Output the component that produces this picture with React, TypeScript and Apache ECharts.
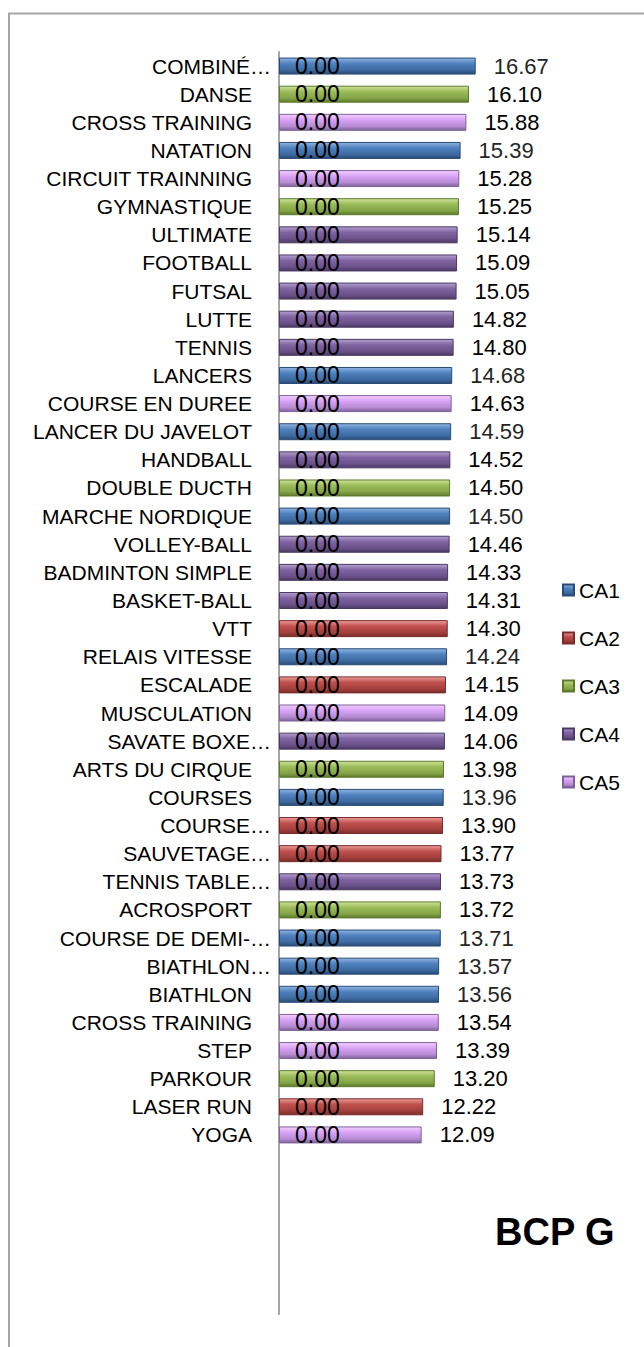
import React, { useEffect, useRef } from "react";
import * as echarts from "echarts";

const categories: string[] = [
  "COMBINÉ…", "DANSE", "CROSS TRAINING", "NATATION", "CIRCUIT TRAINNING",
  "GYMNASTIQUE", "ULTIMATE", "FOOTBALL", "FUTSAL", "LUTTE",
  "TENNIS", "LANCERS", "COURSE EN DUREE", "LANCER DU JAVELOT", "HANDBALL",
  "DOUBLE DUCTH", "MARCHE NORDIQUE", "VOLLEY-BALL", "BADMINTON SIMPLE", "BASKET-BALL",
  "VTT", "RELAIS VITESSE", "ESCALADE", "MUSCULATION", "SAVATE BOXE…",
  "ARTS DU CIRQUE", "COURSES", "COURSE…", "SAUVETAGE…", "TENNIS TABLE…",
  "ACROSPORT", "COURSE DE DEMI-…", "BIATHLON…", "BIATHLON", "CROSS TRAINING",
  "STEP", "PARKOUR", "LASER RUN", "YOGA",
];

const values: number[] = [
  16.67, 16.1, 15.88, 15.39, 15.28,
  15.25, 15.14, 15.09, 15.05, 14.82,
  14.8, 14.68, 14.63, 14.59, 14.52,
  14.5, 14.5, 14.46, 14.33, 14.31,
  14.3, 14.24, 14.15, 14.09, 14.06,
  13.98, 13.96, 13.9, 13.77, 13.73,
  13.72, 13.71, 13.57, 13.56, 13.54,
  13.39, 13.2, 12.22, 12.09,
];

const groups: string[] = [
  "CA1", "CA3", "CA5", "CA1", "CA5",
  "CA3", "CA4", "CA4", "CA4", "CA4",
  "CA4", "CA1", "CA5", "CA1", "CA4",
  "CA3", "CA1", "CA4", "CA4", "CA4",
  "CA2", "CA1", "CA2", "CA5", "CA4",
  "CA3", "CA1", "CA2", "CA2", "CA4",
  "CA3", "CA1", "CA1", "CA1", "CA5",
  "CA5", "CA3", "CA2", "CA5",
];

const zeroValues: number[] = categories.map(() => 0);

const seriesNames: string[] = ["CA1", "CA2", "CA3", "CA4", "CA5"];

const palette: Record<string, [string, string, string, string]> = {
  CA1: ["#8FB4E3", "#4F81BD", "#3D6AA0", "#2A4B75"],
  CA2: ["#EC9E9B", "#C0504D", "#A23F3C", "#7A2C2A"],
  CA3: ["#CFE39A", "#9BBB59", "#84A447", "#5E7A2C"],
  CA4: ["#B3A0D0", "#8064A2", "#6A5189", "#4B3A63"],
  CA5: ["#F3CEFF", "#D9A3F7", "#B58AD2", "#7E6399"],
};

const title = "BCP G";

const FONT = "'Liberation Sans', Arial, sans-serif";

export default function App() {
  const ref = useRef<HTMLDivElement>(null);

  useEffect(() => {
    if (!ref.current) return;
    const chart = echarts.init(ref.current, null, { renderer: "svg" });

    const gridTop = 52;
    const gridHeight = 1097;

    const caSeries = seriesNames.map((name) => {
      const c = palette[name];
      return {
        name,
        type: "bar",
        stack: "total",
        barWidth: 17,
        z: 2,
        data: values.map((v, i) => (groups[i] === name ? v : null)),
        itemStyle: {
          color: new echarts.graphic.LinearGradient(0, 0, 0, 1, [
            { offset: 0, color: c[0] },
            { offset: 0.35, color: c[1] },
            { offset: 0.75, color: c[2] },
            { offset: 1, color: c[3] },
          ]),
          borderColor: c[3],
          borderWidth: 1,
        },
        label: {
          show: true,
          position: "right",
          distance: 18,
          fontSize: 22,
          fontFamily: FONT,
          color: name === "CA1" ? "#262626" : "#000000",
          formatter: (p: any) => Number(p.value).toFixed(2),
        },
      };
    });

    const option: any = {
      animation: false,
      backgroundColor: "#ffffff",
      title: {
        text: title,
        left: 490,
        top: 1208,
        textStyle: { fontSize: 38, fontWeight: "bold", fontFamily: FONT, color: "#000" },
      },
      legend: {
        orient: "vertical",
        left: 557,
        top: 574,
        data: seriesNames,
        itemWidth: 11,
        itemHeight: 11,
        itemGap: 26,
        icon: "rect",
        textStyle: { fontSize: 21, fontFamily: FONT, color: "#000", lineHeight: 22 },
      },
      grid: { left: 279, top: gridTop, width: 212.4, height: gridHeight, containLabel: false },
      xAxis: {
        type: "value",
        min: 0,
        max: 18,
        show: false,
      },
      yAxis: {
        type: "category",
        inverse: true,
        data: categories,
        axisTick: { show: false },
        axisLine: { show: true, lineStyle: { color: "#a6a6a6", width: 2 } },
        axisLabel: {
          margin: 8,
          fontSize: 21,
          fontFamily: FONT,
          color: "#000",
          formatter: (v: string) => (v.indexOf("…") >= 0 ? `{b|${v}}` : `{a|${v}}`),
          rich: {
            a: { fontSize: 21, fontFamily: FONT, color: "#000", padding: [0, 19, 0, 0] },
            b: { fontSize: 21, fontFamily: FONT, color: "#000" },
          },
        },
      },
      graphic: [
        {
          type: "rect",
          shape: { x: 9, y: 13.5, width: 800, height: 1500 },
          style: { fill: "none", stroke: "#a6a6a6", lineWidth: 2 },
          silent: true,
        },
        {
          type: "line",
          shape: { x1: 279, y1: gridTop + gridHeight, x2: 279, y2: 1315 },
          style: { stroke: "#a6a6a6", lineWidth: 2 },
          silent: true,
        },
      ],
      series: [
        {
          name: "zero",
          type: "bar",
          stack: "total",
          barWidth: 17,
          z: 10,
          data: zeroValues,
          itemStyle: { color: "transparent" },
          label: {
            show: true,
            position: "right",
            distance: 16,
            fontSize: 23,
            fontFamily: FONT,
            color: "#000",
            formatter: (p: any) => Number(p.value).toFixed(2),
          },
        },
        ...caSeries,
      ],
    };

    chart.setOption(option);
    return () => chart.dispose();
  }, []);

  return (
    <div
      ref={ref}
      style={{ position: "absolute", left: 0, top: 0, width: 644, height: 1347, background: "#fff" }}
    />
  );
}
